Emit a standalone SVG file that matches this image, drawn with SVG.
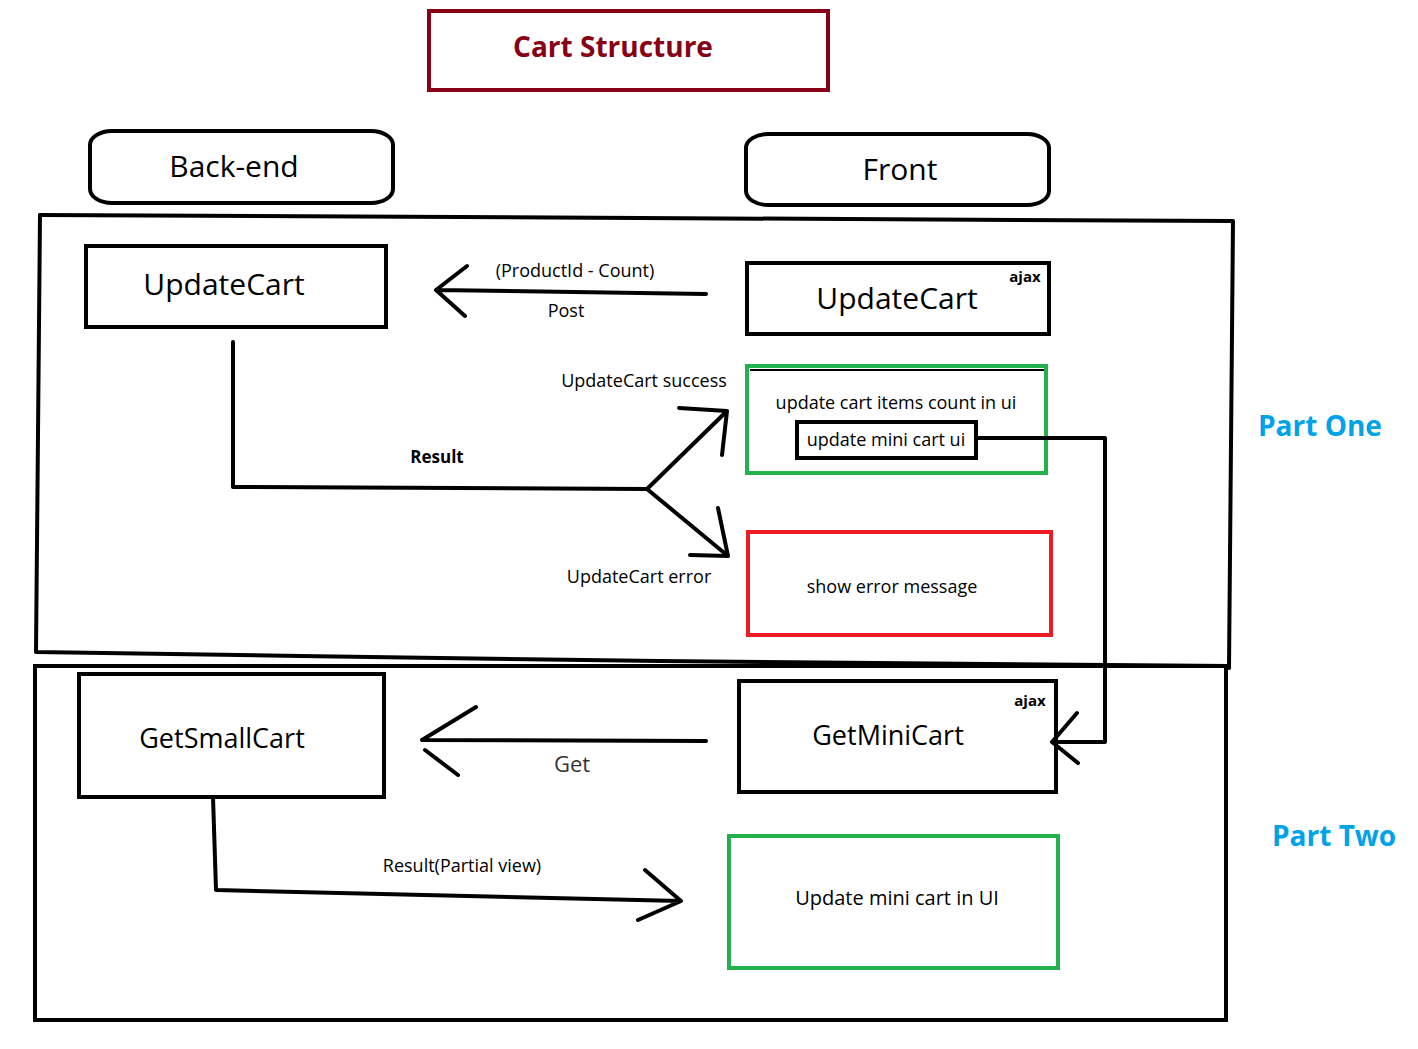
<svg xmlns="http://www.w3.org/2000/svg" width="1418" height="1049" viewBox="0 0 1418 1049">
<style>
text{font-family:"Open Sans","Noto Sans","DejaVu Sans",sans-serif;fill:#000;text-anchor:middle}
.box{fill:#fff;stroke:#000;stroke-width:4}
.big{font-size:30px}
.mid{font-size:18px}
.ajax{font-size:15px;font-weight:bold}
.line{fill:none;stroke:#000;stroke-width:4;stroke-linecap:round;stroke-linejoin:round}
.part{font-size:28px;font-weight:bold;fill:#00a2e8;text-anchor:start}
</style>
<rect width="1418" height="1049" fill="#fff"/>
<g id="frames">
<path d="M40,215 L640,218 L1233,221 L1229,668" class="line"/>
<path d="M40,215 L36,652 L300,656 L660,661 L1229,666" class="line"/>
<rect x="35" y="666" width="1191" height="354" fill="none" stroke="#000" stroke-width="4"/>
</g>
<g id="title">
<rect x="429" y="11" width="399" height="79" fill="#fff" stroke="#880015" stroke-width="4"/>
<text x="613" y="57" style="font-size:28px;font-weight:bold;fill:#880015">Cart Structure</text>
</g>
<g id="backend">
<rect x="90" y="131" width="303" height="72" rx="22" ry="14" class="box"/>
<text x="234" y="177" class="big">Back-end</text>
</g>
<g id="front">
<rect x="746" y="134" width="303" height="71" rx="22" ry="14" class="box"/>
<text x="900" y="180" class="big">Front</text>
</g>
<g id="updatecart-back">
<rect x="86" y="246" width="300" height="81" class="box"/>
<text x="224" y="295" class="big">UpdateCart</text>
</g>
<g id="updatecart-front">
<rect x="747" y="263" width="302" height="71" class="box"/>
<text x="897" y="309" class="big">UpdateCart</text>
<text x="1025" y="282" class="ajax">ajax</text>
</g>
<g id="success">
<rect x="747" y="366" width="299" height="107" fill="#fff" stroke="#22b14c" stroke-width="4"/>
<line x1="750" y1="370" x2="1044" y2="370" stroke="#000" stroke-width="2"/>
<text x="896" y="409" class="mid">update cart items count in ui</text>
</g>
<g id="minicart-ui">
<rect x="797" y="422" width="179" height="36" class="box"/>
<text x="886" y="446" class="mid">update mini cart ui</text>
</g>
<g id="error">
<rect x="748" y="532" width="303" height="103" fill="#fff" stroke="#ed1c24" stroke-width="4"/>
<text x="892" y="593" class="mid">show error message</text>
</g>
<g id="getsmallcart">
<rect x="79" y="674" width="305" height="123" class="box"/>
<text x="222" y="748" class="big" style="font-size:27px">GetSmallCart</text>
</g>
<g id="getminicart">
<rect x="739" y="681" width="317" height="111" class="box"/>
<text x="888" y="745" class="big" style="font-size:27px">GetMiniCart</text>
<text x="1030" y="706" class="ajax">ajax</text>
</g>
<g id="update-ui">
<rect x="729" y="836" width="329" height="132" fill="#fff" stroke="#22b14c" stroke-width="4"/>
<text x="897" y="905" style="font-size:20px">Update mini cart in UI</text>
</g>
<g id="connectors">
<path d="M706,294 L436,290 M467,266 L436,290 L465,316" class="line"/>
<path d="M233,342 L233,487 L647,489 L727,411 M679,408 L727,411 L722,455 M647,489 L728,556 M690,555 L728,556 L718,508" class="line"/>
<path d="M976,438 L1105,438 L1105,742 L1052,742 M1077,713 L1052,742 L1078,763" class="line"/>
<path d="M706,741 L422,740 L476,707 M425,750 L458,775" class="line"/>
<path d="M213,797 L216,890 L681,901 L645,870 M681,901 L638,920" class="line"/>
</g>
<g id="labels">
<text x="575" y="277" class="mid">(ProductId - Count)</text>
<text x="566" y="317" class="mid">Post</text>
<text x="644" y="387" class="mid">UpdateCart success</text>
<text x="437" y="463" class="mid" style="font-weight:bold;font-size:17px">Result</text>
<text x="639" y="583" class="mid">UpdateCart error</text>
<text x="572" y="772" style="font-size:22px;fill:#333">Get</text>
<text x="462" y="872" class="mid">Result(Partial view)</text>
<text x="1258" y="436" class="part">Part One</text>
<text x="1272" y="846" class="part">Part Two</text>
</g>
</svg>
